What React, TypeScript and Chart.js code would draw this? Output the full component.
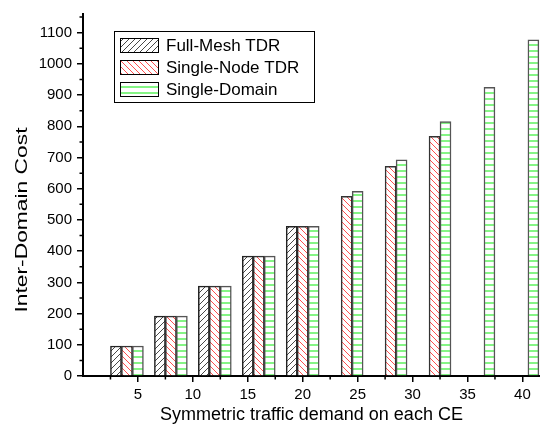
import React, { useEffect, useRef } from "react";
import { Chart, registerables } from "chart.js";

Chart.register(...registerables);

// ---- data ----
const groupX = [4, 8, 12, 16, 20, 24, 28, 32, 36, 40];
const fullMesh = [96, 192, 288, 384, 480];
const singleNode = [96, 192, 288, 384, 480, 576, 672, 768];
const singleDomain = [96, 192, 288, 384, 480, 592, 693, 815, 925, 1077];
const seriesNames = ["Full-Mesh TDR", "Single-Node TDR", "Single-Domain"];
const seriesOffsets = [-1, 0, 1];
const xTickValues = [5, 10, 15, 20, 25, 30, 35, 40];
const xMinorValues = [2.5, 7.5, 12.5, 17.5, 22.5, 27.5, 32.5, 37.5];
const yTickValues = [0, 100, 200, 300, 400, 500, 600, 700, 800, 900, 1000, 1100];
const yMinorValues = [50, 150, 250, 350, 450, 550, 650, 750, 850, 950, 1050, 1150];
const xTitle = "Symmetric traffic demand on each CE";
const yTitle = "Inter-Domain Cost";

const FAMILY = "'Liberation Sans', Arial, sans-serif";

function makePattern(kind: string): CanvasPattern | string {
  const c = document.createElement("canvas");
  c.width = 6;
  c.height = 6;
  const g = c.getContext("2d");
  if (!g) return "#fff";
  g.fillStyle = "#fff";
  g.fillRect(0, 0, 6, 6);
  g.lineCap = "square";
  if (kind === "slash") {
    g.strokeStyle = "#333";
    g.lineWidth = 0.9;
    g.beginPath();
    g.moveTo(-1, 1); g.lineTo(1, -1);
    g.moveTo(0, 6); g.lineTo(6, 0);
    g.moveTo(5, 7); g.lineTo(7, 5);
    g.stroke();
  } else if (kind === "back") {
    g.strokeStyle = "#ff3a3a";
    g.lineWidth = 0.9;
    g.beginPath();
    g.moveTo(0, 0); g.lineTo(6, 6);
    g.moveTo(5, -1); g.lineTo(7, 1);
    g.moveTo(-1, 5); g.lineTo(1, 7);
    g.stroke();
  } else {
    g.strokeStyle = "#33ee33";
    g.lineWidth = 1.2;
    g.beginPath();
    g.moveTo(0, 3); g.lineTo(6, 3);
    g.stroke();
  }
  return g.createPattern(c, "repeat") || "#fff";
}

export default function App() {
  const ref = useRef<HTMLCanvasElement | null>(null);

  useEffect(() => {
    if (!ref.current) return;
    const patterns = [makePattern("slash"), makePattern("back"), makePattern("horiz")];
    const borders = ["#222", "#333", "#555"];
    const values = [fullMesh, singleNode, singleDomain];

    const datasets = values.map((vals, i) => ({
      label: seriesNames[i],
      data: vals.map((v, j) => ({ x: groupX[j] + seriesOffsets[i], y: v })),
      backgroundColor: patterns[i],
      borderColor: borders[i],
      borderWidth: 1.5,
      borderSkipped: "start",
      grouped: false,
      barPercentage: 1,
      categoryPercentage: 1,
    }));

    const decoPlugin = {
      id: "deco",
      afterDraw(chart: any) {
        const ctx = chart.ctx;
        const xs = chart.scales.x;
        const ys = chart.scales.y;
        const area = chart.chartArea;
        ctx.save();
        // minor ticks
        ctx.strokeStyle = "#000";
        ctx.lineWidth = 1.5;
        ctx.beginPath();
        xMinorValues.forEach((v) => {
          const px = xs.getPixelForValue(v);
          ctx.moveTo(px, area.bottom);
          ctx.lineTo(px, area.bottom + 3.5);
        });
        yMinorValues.forEach((v) => {
          const py = ys.getPixelForValue(v);
          ctx.moveTo(area.left, py);
          ctx.lineTo(area.left - 3.5, py);
        });
        ctx.stroke();

        // y title (stretched like the original)
        ctx.save();
        ctx.translate(22, 220);
        ctx.rotate(-Math.PI / 2);
        ctx.font = "17px " + FAMILY;
        const w = ctx.measureText(yTitle).width;
        ctx.scale(185 / w, 1);
        ctx.fillStyle = "#000";
        ctx.textAlign = "center";
        ctx.textBaseline = "middle";
        ctx.fillText(yTitle, 0, 0);
        ctx.restore();

        // legend
        ctx.fillStyle = "#fff";
        ctx.fillRect(114, 31, 200, 71);
        ctx.strokeStyle = "#000";
        ctx.lineWidth = 1;
        ctx.strokeRect(114.5, 31.5, 200, 71);
        chart.data.datasets.forEach((ds: any, i: number) => {
          const yc = 45 + 22 * i;
          ctx.fillStyle = ds.backgroundColor;
          ctx.fillRect(120, yc - 7, 39, 14);
          ctx.strokeStyle = "#000";
          ctx.lineWidth = 1;
          ctx.strokeRect(120.5, yc - 7 + 0.5, 38, 14);
          ctx.fillStyle = "#000";
          ctx.font = "17px " + FAMILY;
          ctx.textAlign = "left";
          ctx.textBaseline = "middle";
          ctx.fillText(ds.label, 166, yc + 1);
        });
        ctx.restore();
      },
    };

    const chart = new Chart(ref.current, {
      type: "bar",
      data: { datasets: datasets as any },
      options: {
        animation: false,
        responsive: false,
        maintainAspectRatio: false,
        layout: { padding: { top: 4, right: 0, left: 0, bottom: 0 } },
        plugins: { legend: { display: false }, tooltip: { enabled: false } },
        scales: {
          x: {
            type: "linear",
            min: 0,
            max: 41.6,
            offset: false,
            afterFit: (s: any) => { s.height = 60; },
            afterBuildTicks: (s: any) => { s.ticks = xTickValues.map((v) => ({ value: v })); },
            grid: { offset: false, drawOnChartArea: false, drawTicks: true, tickLength: 6, color: "#000", lineWidth: 1.5 },
            border: { display: true, color: "#000", width: 2 },
            ticks: { color: "#000", font: { size: 15, family: FAMILY }, padding: 4, maxRotation: 0, autoSkip: false, callback: (v: any) => String(v) },
            title: { display: true, text: xTitle, color: "#000", font: { size: 18, family: FAMILY }, padding: { top: 0, bottom: 10 } },
          },
          y: {
            type: "linear",
            min: 0,
            max: 1160,
            afterFit: (s: any) => { s.width = 83; },
            afterBuildTicks: (s: any) => { s.ticks = yTickValues.map((v) => ({ value: v })); },
            grid: { drawOnChartArea: false, drawTicks: true, tickLength: 6, color: "#000", lineWidth: 1.5 },
            border: { display: true, color: "#000", width: 2 },
            ticks: { color: "#000", font: { size: 15, family: FAMILY }, padding: 5, callback: (v: any) => String(v) },
          },
        },
      } as any,
      plugins: [decoPlugin],
    });
    return () => chart.destroy();
  }, []);

  return (
    <div style={{ position: "fixed", left: 0, top: 0, width: 540, height: 436, background: "#fff" }}>
      <canvas ref={ref} width={540} height={436} style={{ display: "block", width: 540, height: 436 }} />
    </div>
  );
}
